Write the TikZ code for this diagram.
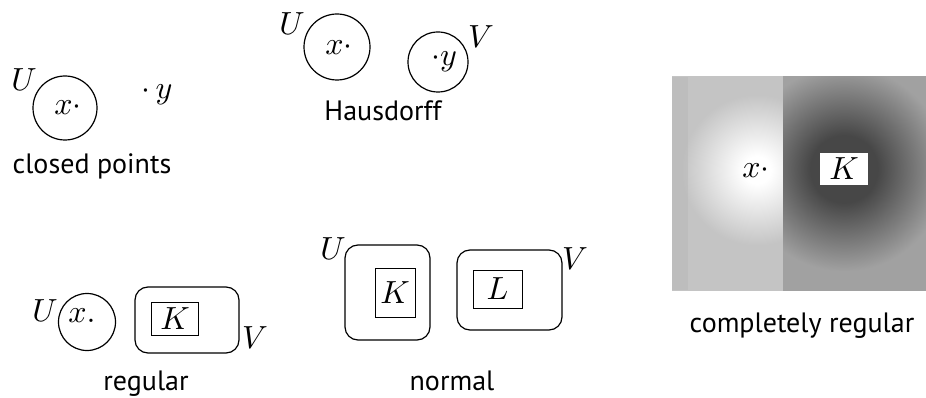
\documentclass[tikz,border=0pt]{standalone}
\usepackage{graphicx}
\usepackage{fontspec}
\setsansfont{PT Sans}
\newcommand\lab{\fontsize{28}{32}\selectfont\sffamily}
\newcommand\mth[1]{\scalebox{3.2}{$#1$}}
\definecolor{leftbase}{rgb}{0.77,0.77,0.77}
\definecolor{leftedge}{rgb}{0.70,0.70,0.70}
\definecolor{rightbase}{rgb}{0.63,0.63,0.63}
\definecolor{halo}{rgb}{0.28,0.28,0.28}
\pgfdeclareradialshading{glow}{\pgfpoint{0bp}{0bp}}{color(0bp)=(white); color(2bp)=(white); color(11bp)=(leftbase); color(50bp)=(leftbase)}
\pgfdeclareradialshading{darkhalo}{\pgfpoint{0bp}{0bp}}{color(0bp)=(halo); color(5bp)=(halo); color(15bp)=(rightbase); color(50bp)=(rightbase)}
\tikzset{
  lbl/.style={font=\lab, anchor=base, inner sep=0pt},
  mlab/.style={inner sep=0pt},
  ring/.style={draw, circle, line width=1.2pt, inner sep=0pt},
  rbox/.style={draw, rounded corners=13pt, line width=1.2pt, inner sep=0pt},
  sbox/.style={draw, line width=1pt, inner sep=0pt},
}
\begin{document}
\begin{tikzpicture}[x=1pt, y=-1pt]
\useasboundingbox (0,0) rectangle (926,398);

% closed points
\node[mlab] (U1) at (24,80) {\mth{U}};
\node[ring, minimum size=64pt] (C1) at (65,108) {};
\node[mlab] (x1) at (68,107) {\mth{x\cdot}};
\node[mlab] (y1) at (157,95) {\mth{\cdot\, y}};
\node[lbl] (t1) at (92,174) {closed points};

% Hausdorff
\node[mlab] (U2) at (292,24) {\mth{U}};
\node[ring, minimum size=66pt] (C2) at (337,47) {};
\node[mlab] (x2) at (339,47) {\mth{x\cdot}};
\node[ring, minimum size=60pt] (C3) at (438,62) {};
\node[mlab] (y2) at (444,62) {\mth{\cdot y}};
\node[mlab] (V2) at (481,37) {\mth{V}};
\node[lbl] (t2) at (383,121) {Hausdorff};

% regular
\node[mlab] (U3) at (45,311) {\mth{U}};
\node[ring, minimum size=57pt] (C4) at (87,322) {};
\node[mlab] (x3) at (82,316) {\mth{x.}};
\node[rbox, minimum width=104pt, minimum height=66pt] (B1) at (187,320) {};
\node[sbox, minimum width=47pt, minimum height=33pt] (K1) at (175,319) {\mth{K}};
\node[mlab] (V3) at (255,338) {\mth{V}};
\node[lbl] (t3) at (146,390) {regular};

% normal
\node[mlab] (U4) at (333,249) {\mth{U}};
\node[rbox, minimum width=85pt, minimum height=95pt] (B2) at (387.5,292.5) {};
\node[sbox, minimum width=40pt, minimum height=49pt] (K2) at (395,292.5) {\mth{K}};
\node[rbox, minimum width=105pt, minimum height=80pt] (B3) at (509.5,290) {};
\node[sbox, minimum width=49pt, minimum height=38pt] (L1) at (497.5,289) {\mth{L}};
\node[mlab] (V4) at (575,259) {\mth{V}};
\node[lbl] (t4) at (452,390) {normal};

% completely regular
\begin{scope}
  \clip (672,77) rectangle (783,290);
  \shade[shading=glow] (757,170) circle (170);
  \fill[leftedge, opacity=0.35] (672,77) rectangle (688,290);
\end{scope}
\begin{scope}
  \clip (783,77) rectangle (926,290);
  \shade[shading=darkhalo] (844,169) circle (170);
\end{scope}
\node[mlab] (x4) at (756,170) {\mth{x\cdot}};
\node[fill=white, minimum width=48pt, minimum height=32pt, inner sep=0pt] (K3) at (844,169) {\mth{K}};
\node[lbl] (t5) at (802,332) {completely regular};
\end{tikzpicture}
\end{document}
